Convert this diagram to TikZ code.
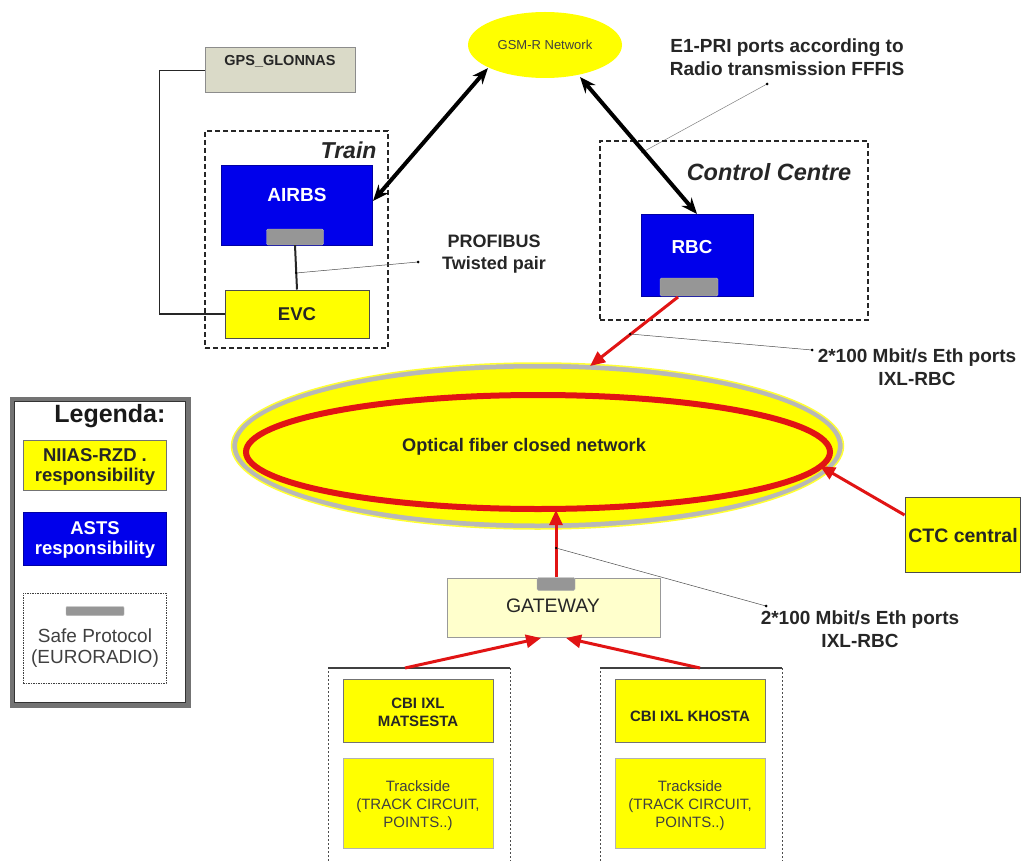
\documentclass[tikz,border=0pt]{standalone}
\usepackage{fontspec}
\setmainfont{Liberation Sans}
\usetikzlibrary{arrows.meta,shapes.geometric,calc}
\definecolor{ablue}{RGB}{0,0,235}
\definecolor{ayel}{RGB}{255,255,0}
\definecolor{gwfill}{RGB}{255,255,204}
\definecolor{gpsfill}{RGB}{218,218,200}
\definecolor{tabgray}{RGB}{150,150,150}
\definecolor{ared}{RGB}{225,20,20}
\newcommand{\fs}[1]{\fontsize{#1pt}{\dimexpr #1pt*12/10\relax}\selectfont}
\tikzset{
  bluebox/.style={rectangle,draw=ablue!70!black,fill=ablue,line width=0.8pt,inner sep=0pt},
  yelbox/.style={rectangle,draw=black!70,fill=ayel,line width=1pt,inner sep=0pt},
  tab/.style={rectangle,rounded corners=1.5pt,fill=tabgray,draw=tabgray!70,inner sep=0pt,minimum width=57pt,minimum height=16pt},
  grp/.style={rectangle,draw=black!85,dashed,dash pattern=on 5pt off 3pt,line width=1.3pt,inner sep=0pt},
  blk/.style={line width=4pt,black,{Stealth[length=16pt,width=13pt]}-{Stealth[length=16pt,width=13pt]}},
  redarr/.style={line width=3pt,ared,-{Triangle[length=15pt,width=13pt]}},
  lead/.style={line width=0.5pt,black!70},
  dotc/.style={circle,fill=black,inner sep=0pt,minimum size=3pt},
  lbl/.style={font=\bfseries\fs{19},align=center,text=black!85},
}
\begin{document}
\begin{tikzpicture}[x=1pt,y=-1pt]
\useasboundingbox (0,0) rectangle (1022,861);
\fill[white] (0,0) rectangle (1022,861);

% GPS
\node[rectangle,draw=black!45,fill=gpsfill,line width=1pt,minimum width=150pt,minimum height=45pt] (gps) at (280,70.5) {};
\node[font=\bfseries\fs{14.5},text=black!85] (gpst) at (280,61) {GPS\_GLONNAS};

% Train group
\node[grp,minimum width=183pt,minimum height=217pt] (train) at (296.5,239.5) {};
\node[font=\bfseries\itshape\fs{23},text=black!85,anchor=east] (traint) at (380,150) {Train};
\node[bluebox,minimum width=151pt,minimum height=80pt] (airbs) at (296.5,205) {};
\node[font=\bfseries\fs{19},text=white] (airbst) at (297,195) {AIRBS};
\node[tab] (airbstab) at (295,237) {};
\node[yelbox,minimum width=144pt,minimum height=48pt] (evc) at (297,314) {};
\node[font=\bfseries\fs{18.5},text=black!85] (evct) at (297,314) {EVC};
\draw[line width=2pt,black!85] (airbstab.south) -- (evc.north);
\draw[line width=1.6pt,black!85] (gps.west) -- ++(-45,0) |- (evc.west);

% PROFIBUS
\node[lbl,font=\bfseries\fs{18}] (prof) at (494,254) {PROFIBUS\\Twisted pair};
\coordinate (profdot) at (418,262);
\coordinate (profa) at (296,273);
\draw[lead] (profa) -- (profdot);
\node[dotc] at (profdot) {};
\node[dotc,minimum size=2.5pt] at (profa) {};

% GSM-R
\node[ellipse,fill=ayel,minimum width=154pt,minimum height=66pt,inner sep=0pt] (gsm) at (545,45) {};
\node[font=\fs{13},text=black!75] (gsmt) at (545,45) {GSM-R Network};

% E1-PRI
\node[lbl] (e1) at (787,57) {E1-PRI ports according to\\Radio transmission FFFIS};
\coordinate (e1dot) at (767,84);
\coordinate (e1end) at (641,153);
\draw[lead,black!50] (e1dot) -- (e1end);
\node[dotc] at (e1dot) {};

% Control centre
\node[grp,minimum width=268pt,minimum height=179pt] (cc) at (734,230.5) {};
\node[font=\bfseries\itshape\fs{23.5},text=black!85] (cct) at (769,172) {Control Centre};
\node[bluebox,minimum width=112pt,minimum height=82pt] (rbc) at (697,255) {};
\node[font=\bfseries\fs{18.8},text=white] (rbct) at (692,247) {RBC};
\node[tab,minimum width=58pt,minimum height=18pt] (rbctab) at (689,287) {};

% black arrows
\coordinate (a1s) at (373,201);
\coordinate (a1e) at (488,68);
\draw[blk] (a1s) -- (a1e);
\coordinate (a2s) at (580,77);
\coordinate (a2e) at (697,214);
\draw[blk] (a2s) -- (a2e);

% Big ellipse
\node[ellipse,fill=ayel,draw=black!28,line width=5pt,minimum width=606pt,minimum height=160pt,inner sep=0pt] (net) at (537.5,446) {};
\draw[ayel!80!white,line width=1.5pt] (net.center) ellipse[x radius=306pt,y radius=83pt];
\node[ellipse,draw=ared,line width=6pt,minimum width=584pt,minimum height=114pt,inner sep=0pt] (ring) at (538,452) {};
\node[font=\bfseries\fs{18.2},text=black!85] (nett) at (524,447) {Optical fiber closed network};

% RBC -> net
\coordinate (rbcout) at (678,297);
\coordinate (netin) at (590,366);
\draw[redarr] (rbcout) -- (netin);
\coordinate (d1) at (630,334);
\coordinate (d1e) at (812,350);
\draw[lead] (d1) -- (d1e);
\node[dotc,minimum size=2.5pt] at (d1) {};
\node[dotc] at (d1e) {};
\node[lbl] (eth1) at (917,367) {2*100 Mbit/s Eth ports\\IXL-RBC};

% CTC
\node[yelbox,minimum width=115pt,minimum height=75pt] (ctc) at (962.5,534.5) {};
\node[font=\bfseries\fs{19.5},text=black!85] (ctct) at (963,536) {CTC central};
\coordinate (ctcin) at (820,466);
\draw[redarr] (ctc.west |- 0,515) -- (ctcin);

% Gateway
\node[rectangle,draw=black!40,fill=gwfill,line width=1pt,minimum width=213pt,minimum height=59pt,inner sep=0pt] (gw) at (553.5,607.5) {};
\node[tab,minimum width=38pt,minimum height=13pt] (gwtab) at (556,584) {};
\node[font=\fs{19.5},text=black!85] (gwt) at (553,606) {GATEWAY};
\coordinate (ringbot) at (556,510);
\draw[redarr] (gwtab.north) -- (ringbot);
\coordinate (d2) at (556,548);
\coordinate (d2e) at (766,606);
\draw[lead] (d2) -- (d2e);
\node[dotc,minimum size=2.5pt] at (d2) {};
\node[dotc] at (d2e) {};
\node[lbl] (eth2) at (860,629) {2*100 Mbit/s Eth ports\\IXL-RBC};

% Bottom groups
\draw[black!70,line width=0.9pt,dash pattern=on 2pt off 2pt] (328,861) -- (328,668) (510,668) -- (510,861);
\draw[black!75,line width=1.5pt] (328,668) -- (510,668);
\draw[black!70,line width=0.9pt,dash pattern=on 2pt off 2pt] (600,861) -- (600,668) (782,668) -- (782,861);
\draw[black!75,line width=1.5pt] (600,668) -- (782,668);
\coordinate (lgtop) at (405,668);
\coordinate (rgtop) at (700,668);

\node[yelbox,draw=black!55,minimum width=150pt,minimum height=63pt] (cbi1) at (418,710.5) {};
\node[font=\bfseries\fs{15},align=center,text=black!85] (cbi1t) at (418,712) {CBI IXL\\MATSESTA};
\node[yelbox,draw=black!30,minimum width=150pt,minimum height=90pt] (ts1) at (418,803) {};
\node[font=\fs{15},align=center,text=black!75] (ts1t) at (418,806) {Trackside\\(TRACK CIRCUIT,\\POINTS..)};
\node[yelbox,draw=black!55,minimum width=150pt,minimum height=63pt] (cbi2) at (690,710.5) {};
\node[font=\bfseries\fs{15},text=black!85] (cbi2t) at (690,716) {CBI IXL KHOSTA};
\node[yelbox,draw=black!30,minimum width=150pt,minimum height=90pt] (ts2) at (690,803) {};
\node[font=\fs{15},align=center,text=black!75] (ts2t) at (690,806) {Trackside\\(TRACK CIRCUIT,\\POINTS..)};

\coordinate (gwb1) at (541,638);
\coordinate (gwb2) at (566,638);
\draw[redarr] (lgtop) -- (gwb1);
\draw[redarr] (rgtop) -- (gwb2);

% Legend
\node[rectangle,draw=black!55,line width=5pt,minimum width=176pt,minimum height=306pt,inner sep=0pt] (leg) at (100,552) {};
\draw[black!80,line width=0.8pt] (leg.south west) ++(5,-5) rectangle ($(leg.north east)+(-5,5)$);
\node[font=\bfseries\fs{25},text=black!90,anchor=east] (legt) at (169,416) {Legenda:};
\node[yelbox,draw=black!55,minimum width=143pt,minimum height=50pt] (l1) at (94.5,465) {};
\node[font=\bfseries\fs{18.5},align=center,text=black!85] (l1t) at (95,467) {NIIAS-RZD .\\[-2pt]responsibility};
\node[bluebox,minimum width=143pt,minimum height=53pt] (l2) at (94.5,538.5) {};
\node[font=\bfseries\fs{18.5},align=center,text=white] (l2t) at (95,540) {ASTS\\[-2pt]responsibility};
\node[rectangle,draw=black!75,dash pattern=on 1.5pt off 1pt,line width=1pt,minimum width=143pt,minimum height=90pt,inner sep=0pt] (l3) at (94.5,638) {};
\node[tab,minimum width=58pt,minimum height=9pt,rounded corners=1pt] (l3tab) at (95,611) {};
\node[font=\fs{19},align=center,text=black!75] (l3t) at (95,648) {Safe Protocol\\[-1pt](EURORADIO)};
\end{tikzpicture}
\end{document}
